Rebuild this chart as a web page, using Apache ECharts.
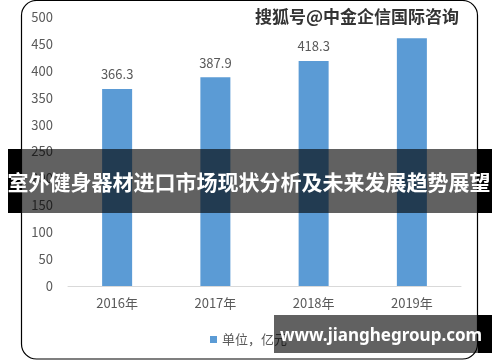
<!DOCTYPE html>
<html><head><meta charset="utf-8">
<script src="https://cdn.jsdelivr.net/npm/echarts@6/dist/echarts.min.js"></script>
<style>html,body{margin:0;padding:0;background:#fff}#c{width:500px;height:362px}</style>
</head><body><div id="c"></div>
<script>
var categories = ['2016年', '2017年', '2018年', '2019年'];
var values = [366.3, 387.9, 418.3, 460.5];
var seriesName = '单位，亿元';
var yTicks = {min: 0, max: 500, interval: 50};
var bannerTitle = '室外健身器材进口市场现状分析及未来发展趋势展望';
var watermark = '搜狐号@中金企信国际咨询';
var siteText = 'www.jianghegroup.com';

var font = '"Noto Sans CJK SC","Noto Sans",sans-serif';
var chart = echarts.init(document.getElementById('c'), null, {renderer: 'canvas'});
chart.setOption({
  animation: false,
  backgroundColor: '#fff',
  textStyle: {fontFamily: font},
  grid: {left: 68, right: 39, top: 17, bottom: 76},
  legend: {
    left: 205, top: 328, icon: 'rect', itemWidth: 7, itemHeight: 7, itemGap: 4,
    textStyle: {color: '#595959', fontSize: 13, fontFamily: font},
    data: [seriesName]
  },
  xAxis: {
    type: 'category', data: categories,
    axisLine: {lineStyle: {color: '#d9d9d9'}},
    axisTick: {show: false},
    axisLabel: {color: '#595959', fontSize: 13, margin: 11, fontFamily: font}
  },
  yAxis: {
    type: 'value', min: yTicks.min, max: yTicks.max, interval: yTicks.interval,
    axisLine: {show: false}, axisTick: {show: false}, splitLine: {show: false},
    axisLabel: {color: '#595959', fontSize: 13, margin: 15, fontFamily: font}
  },
  series: [{
    name: seriesName, type: 'bar', data: values, barWidth: 30,
    itemStyle: {color: '#5B9BD5'},
    label: {show: true, position: 'top', distance: 8, color: '#595959', fontSize: 13, fontFamily: font}
  }],
  graphic: [
    {type: 'rect', z: 50, silent: true, shape: {x: 21.5, y: 0.5, width: 456, height: 358.5, r: 15},
     style: {fill: 'none', stroke: '#000', lineWidth: 1.2}},
    {type: 'text', z: 60, left: 252, top: 5,
     style: {text: watermark, fill: '#333', font: 'bold 17px ' + font, stroke: '#fff', lineWidth: 2,
             backgroundColor: '#fff', padding: [3, 4, 10, 3]}},
    {type: 'rect', z: 100, silent: true, shape: {x: 8, y: 149, width: 14, height: 64}, style: {fill: '#000'}},
    {type: 'rect', z: 100, silent: true, shape: {x: 478, y: 149, width: 14, height: 64}, style: {fill: '#000'}},
    {type: 'rect', z: 100, silent: true, shape: {x: 22, y: 149, width: 456, height: 64}, style: {fill: 'rgba(0,0,0,0.62)'}},
    {type: 'text', z: 101, x: 249, y: 182,
     style: {text: bannerTitle, fill: '#fff', font: 'bold 21px ' + font, align: 'center', verticalAlign: 'middle'}},
    {type: 'rect', z: 100, silent: true, shape: {x: 274, y: 315, width: 204, height: 38}, style: {fill: 'rgba(0,0,0,0.62)'}},
    {type: 'rect', z: 100, silent: true, shape: {x: 478, y: 315, width: 14, height: 38}, style: {fill: '#000'}},
    {type: 'text', z: 101, x: 381, y: 336,
     style: {text: siteText, fill: '#fff', font: 'bold 17px "Noto Sans",sans-serif', align: 'center', verticalAlign: 'middle'}}
  ]
});
</script></body></html>
